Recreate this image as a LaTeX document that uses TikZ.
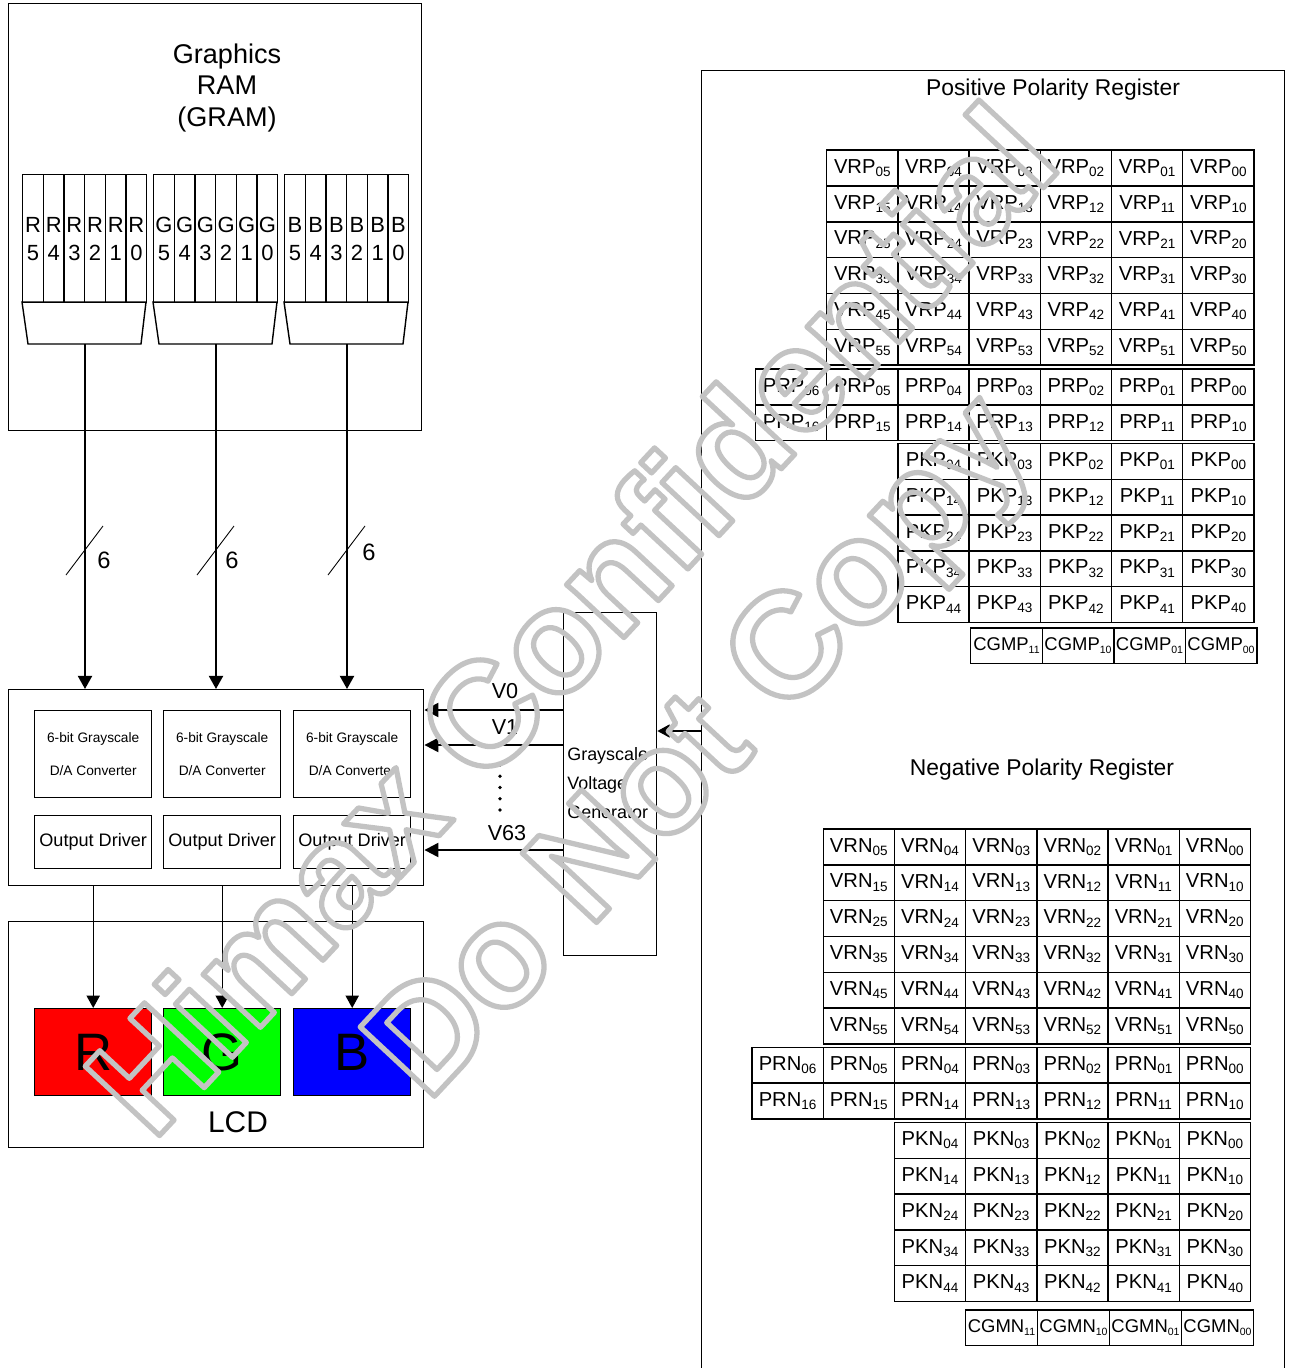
\documentclass[tikz,border=0pt]{standalone}
\usepackage{fontspec}
\setmainfont{Liberation Sans}
\usepackage{xcolor}
\usetikzlibrary{arrows.meta,calc,positioning}
\definecolor{lcdred}{RGB}{255,0,0}
\definecolor{lcdgreen}{RGB}{0,255,0}
\definecolor{lcdblue}{RGB}{0,0,255}
\definecolor{wmgray}{RGB}{195,195,195}
\newcommand{\fsz}[2]{\fontsize{#1}{#2}\selectfont}
\newcommand{\regsub}[1]{\raisebox{-0.3ex}{\fsz{7.7}{8}#1}}
\newcommand{\cgsub}[1]{\raisebox{-0.3ex}{\fsz{6}{6}#1}}
\newcommand{\hollow}[1]{\special{pdf:literal direct 1 Tr 3 w 1 j}#1\special{pdf:literal direct 0 Tr}}

\begin{document}
\begin{tikzpicture}[x=0.02cm, y=-0.02cm,
  box/.style 2 args={draw, line width=0.8pt, inner sep=0pt, anchor=north west,
    minimum width=#1*0.02cm, minimum height=#2*0.02cm},
  bitcell/.style={box={20.67}{128}, font=\fsz{12.5}{16}, align=center},
  cell/.style={box={71.2}{35.8}, font=\fsz{11.5}{13}},
  cgcell/.style={box={71.6}{35.5}, font=\fsz{10.5}{12}},
  dac/.style={box={117}{87}, font=\fsz{7.8}{18.8}, align=center},
  drvbox/.style={box={117}{53}, font=\fsz{10.3}{12}},
  pix/.style={box={117}{87}, font=\fsz{30}{30}},
  bus/.style={line width=1.3pt, -{Triangle[length=7.5pt,width=8pt]}},
  wire/.style={line width=0.7pt, -{Triangle[length=7pt,width=7.5pt]}},
  vline/.style={line width=1.3pt, -{Triangle[length=8pt,width=8pt]}},
  wmark/.style={text=wmgray, font=\bfseries\fsz{84}{90}, inner sep=0pt}]
  \useasboundingbox (0,0) rectangle (1290,1368);
  % ── Graphics RAM ──
  \node[box={413}{427}] (gram) at (8,3) {};
  \node[font=\fsz{15.4}{18.2}, align=center] (gramlbl) at (227,88) {Graphics\\RAM\\(GRAM)};
  \foreach \g/\x/\dx/\dy in {R/22/19/10, G/153/16/10, B/284/22/2} {
    \foreach \b in {5,...,0}
      \node[bitcell] (bit\g\b) at ({\x+(5-\b)*20.67},174) {\g\\\b};
    \draw[line width=0.8pt] (\x,302) -- ++(124,0) -- ++(-5,42) -- ++(-113,0) -- cycle;
    \coordinate (mux\g) at ({\x+63},344);
    % bus into the driver
    \draw[bus] (mux\g) -- (mux\g |- 0,689);
    \path (mux\g) ++(0,206) coordinate (sl\g);
    \draw[line width=0.5pt] ($(sl\g)+(-19,25)$) -- ($(sl\g)+(18,-24)$);
    \node[font=\fsz{13.5}{15}] (width\g) at ($(sl\g)+(\dx,\dy)$) {6};
  }
  %
  % ── Source driver ──
  \node[box={415}{196}] (drv) at (8,689) {};
  \node[dac] (dacR) at (34,710) {6-bit Grayscale\\D/A Converter};
  \node[dac] (dacG) at (163,710) {6-bit Grayscale\\D/A Converter};
  \node[dac] (dacB) at (293,710) {6-bit Grayscale\\D/A Converter};
  \node[drvbox] (outR) at (34,815) {Output Driver};
  \node[drvbox] (outG) at (163,815) {Output Driver};
  \node[drvbox] (outB) at (293,815) {Output Driver};
  %
  % ── LCD ──
  \node[box={415}{226}] (lcd) at (8,921) {};
  \node[pix, fill=lcdred] (pixR) at (34,1008) {R};
  \node[pix, fill=lcdgreen] (pixG) at (163,1008) {G};
  \node[pix, fill=lcdblue] (pixB) at (293,1008) {B};
  \node[font=\fsz{17}{20}] (lcdlbl) at (238,1122) {LCD};
  \foreach \g in {R,G,B}
    \draw[wire] (pix\g.north |- drv.south) -- (pix\g.north);
  %
  % ── Grayscale voltage generator ──
  \node[box={93}{343}] (gen) at (563,612) {};
  \node[font=\fsz{10.2}{16.5}, align=left, anchor=west, inner sep=0pt] (genlbl) at (567,783)
    {Grayscale\\Voltage\\Generator};
  \foreach \v/\y/\lx/\ly in {0/710/505/691, 1/745/505/727, 63/850/507/833} {
    \draw[vline] (gen.west |- 0,\y) -- (drv.east |- 0,\y);
    \node[font=\fsz{12.3}{14}] (vlbl\v) at (\lx,\ly) {V\v};
  }
  \foreach \d in {765,776.25,...,811}
    \fill (500,\d) circle (1.1pt);
  %
  % ── Gamma registers ──
  \node[box={583}{1330}] (reg) at (701,70) {};
  \draw[wire] (reg.west |- 0,731) -- (gen.east |- 0,731);
  \node[font=\fsz{13}{15}] (postitle) at (1053,90) {Positive Polarity Register};
  \foreach \r in {0,...,5}
    \foreach \c in {0,...,5}
      \node[cell] (vrp\r\c) at ({826+(5-\c)*71.2},{149.5+\r*35.8}) {VRP\regsub{\r\c}};
  \foreach \r in {0,1}
    \foreach \c in {0,...,6}
      \node[cell] (prp\r\c) at ({826+(5-\c)*71.2},{368.3+\r*35.9}) {PRP\regsub{\r\c}};
  \foreach \r in {0,...,4}
    \foreach \c in {0,...,4}
      \node[cell] (pkp\r\c) at ({826+(5-\c)*71.2},{442.7+\r*35.8}) {PKP\regsub{\r\c}};
  \foreach \lab [count=\i from 0] in {11,10,01,00}
    \node[cgcell] (cgmp\lab) at ({970+\i*71.5},627.3) {CGMP\cgsub{\lab}};
  %
  \node[font=\fsz{13}{15}] (negtitle) at (1042,770) {Negative Polarity Register};
  \foreach \r in {0,...,5}
    \foreach \c in {0,...,5}
      \node[cell] (vrn\r\c) at ({822.5+(5-\c)*71.2},{828.3+\r*35.8}) {VRN\regsub{\r\c}};
  \foreach \r in {0,1}
    \foreach \c in {0,...,6}
      \node[cell] (prn\r\c) at ({822.5+(5-\c)*71.2},{1046.7+\r*35.7}) {PRN\regsub{\r\c}};
  \foreach \r in {0,...,4}
    \foreach \c in {0,...,4}
      \node[cell] (pkn\r\c) at ({822.5+(5-\c)*71.2},{1121.7+\r*35.8}) {PKN\regsub{\r\c}};
  \foreach \lab [count=\i from 0] in {11,10,01,00}
    \node[cgcell] (cgmn\lab) at ({965+\i*72},1309.3) {CGMN\cgsub{\lab}};
  %
  % ── Watermark ──
  \node[wmark, rotate=47] (wmtop) at (570,618) {\hollow{Himax Confidential}};
  \node[wmark, rotate=47] (wmbot) at (706,752) {\hollow{Do Not Copy}};
\end{tikzpicture}
\end{document}
